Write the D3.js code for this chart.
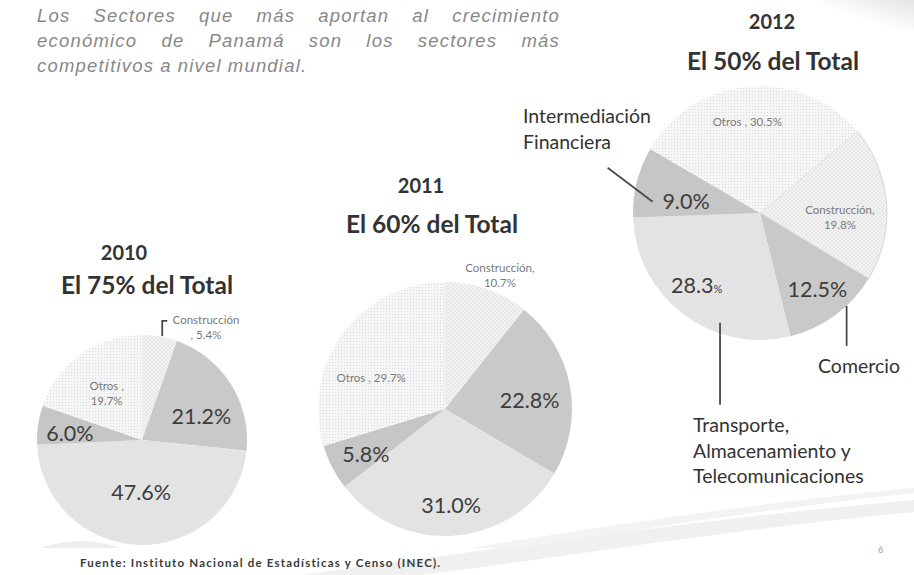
<!DOCTYPE html>
<html lang="es">
<head>
<meta charset="utf-8">
<title>Sectores Panamá</title>
<script src="https://cdn.jsdelivr.net/npm/d3@7"></script>
<style>
  body { margin: 0; background: #fff; }
  svg { display: block; }
</style>
</head>
<body>
<svg id="chart" width="914" height="575"></svg>
<script>
// data
const years = ["2010", "2011", "2012"];
const totalLabels = ["El 75% del Total", "El 60% del Total", "El 50% del Total"];
const sectors = ["Construcción", "Comercio", "Transporte", "Financiera", "Otros"];
const values2010 = [5.4, 21.2, 47.6, 6.0, 19.7];
const values2011 = [10.7, 22.8, 31.0, 5.8, 29.7];
const values2012 = [19.8, 12.5, 28.3, 9.0, 30.5];
const headline = [
  "Los Sectores que más aportan al crecimiento",
  "económico de Panamá son los sectores más",
  "competitivos a nivel mundial."
];
const sectorNotes = [
  ["Intermediación", "Financiera"],
  ["Comercio"],
  ["Transporte,", "Almacenamiento y", "Telecomunicaciones"]
];
const source = "Fuente: Instituto Nacional de Estadísticas y Censo (INEC).";
const pageNumber = "6";

// layout: pie centre, radius, start angle, label spots [angle deg, radius fraction]
const pies = [
  {values: values2010, cx: 142, cy: 440, r: 105, start: 0,
   year: [124, 260], total: [147, 294],
   spots: [[29.7, 1.23], [68, 0.61], [181, 0.5], [275, 0.69], [323, 0.56]],
   split: {0: "before", 4: "after"}},
  {values: values2011, cx: 445, cy: 409, r: 127, start: 0,
   year: [421, 193], total: [432, 233],
   spots: [[22.3, 1.14], [84, 0.67], [176.4, 0.76], [240, 0.72], [292.7, 0.63]],
   split: {0: "comma", 4: "none"}},
  {values: values2012, cx: 760, cy: 213, r: 127, start: 50,
   year: [772, 29], total: [773, 70],
   spots: [[93, 0.63], [143, 0.75], [221, 0.76], [279, 0.59], [352, 0.72]],
   split: {0: "comma", 4: "none"}, smallPct: 2}
];

const fills = ["url(#hatch)", "#c9c9c9", "#e3e3e3", "#c6c6c6", "url(#dots)"];
const fmt = d3.format(".1f");
const rad = Math.PI / 180;

const svg = d3.select("#chart");
const defs = svg.append("defs");

const dots = defs.append("pattern").attr("id", "dots")
  .attr("patternUnits", "userSpaceOnUse").attr("width", 3).attr("height", 3);
dots.append("rect").attr("width", 3).attr("height", 3).attr("fill", "#f6f6f6");
dots.append("circle").attr("cx", 1.5).attr("cy", 1.5).attr("r", 0.55).attr("fill", "#d4d4d4");

const hatch = defs.append("pattern").attr("id", "hatch")
  .attr("patternUnits", "userSpaceOnUse").attr("width", 4).attr("height", 4);
hatch.append("rect").attr("width", 4).attr("height", 4).attr("fill", "#f2f2f2");
hatch.append("path").attr("d", "M0,4 L4,0 M0,0 L4,4").attr("stroke", "#dedede").attr("stroke-width", 0.5);

const corner = defs.append("linearGradient").attr("id", "corner")
  .attr("x1", 0).attr("y1", 1).attr("x2", 1).attr("y2", 0);
corner.append("stop").attr("offset", "0.4").attr("stop-color", "#fff");
corner.append("stop").attr("offset", "1").attr("stop-color", "#e4e4e4");

// background swooshes of the slide
const bg = svg.append("g");
bg.append("rect").attr("x", 820).attr("y", 0).attr("width", 94).attr("height", 30).attr("fill", "url(#corner)");
bg.append("path").attr("d", "M300,575 C520,545 740,515 914,500 L914,512 C740,528 560,558 420,575 Z")
  .attr("fill", "#f0f0f0");
bg.append("path").attr("d", "M470,548 C640,520 800,498 914,488 L914,493 C800,505 650,527 520,548 Z")
  .attr("fill", "#f3f3f3");
bg.append("path").attr("d", "M40,548 C70,538 100,540 120,548 Z").attr("fill", "#ededed");

// headline, justified
const head = svg.append("g")
  .style("font-family", "'Liberation Sans', Arial, sans-serif")
  .style("font-style", "italic").style("font-size", "18.5px")
  .style("letter-spacing", "1.2px").attr("fill", "#888");
headline.forEach((line, i) => {
  const y = 22 + i * 25;
  const words = line.split(" ");
  const nodes = words.map(w => head.append("text").attr("y", y).text(w));
  const widths = nodes.map(n => n.node().getComputedTextLength());
  const total = d3.sum(widths);
  const last = i === headline.length - 1;
  const gap = last ? 6 : (560 - 37 - total) / (words.length - 1);
  let x = 37;
  nodes.forEach((n, j) => { n.attr("x", x); x += widths[j] + gap; });
});

const pie = d3.pie().sort(null).value(d => d);

pies.forEach((p, k) => {
  const g = svg.append("g").attr("transform", `translate(${p.cx},${p.cy})`);
  const arcs = pie.startAngle(p.start * rad).endAngle((p.start + 360) * rad)(p.values);
  const arc = d3.arc().innerRadius(0).outerRadius(p.r);

  g.selectAll("path.slice").data(arcs).join("path")
    .attr("class", "slice")
    .attr("d", arc)
    .attr("fill", (d, i) => fills[i])
    .attr("stroke", (d, i) => (k === 2 && i === 0) ? "#cfcfcf" : "none")
    .attr("stroke-width", 0.8);

  // titles
  svg.append("text").attr("x", p.year[0]).attr("y", p.year[1])
    .attr("text-anchor", "middle").style("font-family", "Lato, sans-serif")
    .style("font-weight", "bold").style("font-size", "20px").attr("fill", "#333")
    .text(years[k]);
  svg.append("text").attr("x", p.total[0]).attr("y", p.total[1])
    .attr("text-anchor", "middle").style("font-family", "Lato, sans-serif")
    .style("font-weight", "bold").style("font-size", "24.5px").attr("fill", "#333")
    .text(totalLabels[k]);

  // slice labels
  arcs.forEach((a, i) => {
    const [ang, f] = p.spots[i];
    const [x, y] = d3.pointRadial(ang * rad, p.r * f);
    const v = fmt(a.data) + "%";
    if (i === 0 || i === 4) {
      const name = sectors[i];
      const mode = p.split[i];
      let lines;
      if (mode === "before") lines = [name, ", " + v];
      else if (mode === "after") lines = [name + " ,", v];
      else if (mode === "comma") lines = [name + ",", v];
      else lines = [name + " , " + v];
      const t = g.append("text").attr("text-anchor", "middle")
        .style("font-family", "Lato, sans-serif").style("font-size", "11.5px").attr("fill", "#7a7a7a");
      lines.forEach((l, j) => {
        t.append("tspan").attr("x", x)
          .attr("y", y + (j - (lines.length - 1) / 2) * 15 + 4).text(l);
      });
    } else {
      const t = g.append("text").attr("x", x).attr("y", y + 7.5)
        .attr("text-anchor", "middle").style("font-family", "Lato, sans-serif")
        .style("font-size", "21.5px").attr("fill", "#3d3d3d");
      if (p.smallPct === i) {
        t.append("tspan").text(fmt(a.data));
        t.append("tspan").style("font-size", "11px").text("%");
      } else {
        t.text(v);
      }
    }
  });
});

// leader lines and sector notes (2012 pie and 2010 construction)
const p10 = pies[0], p12 = pies[2];
function leader(p, ang, f, steps) {
  const [x0, y0] = d3.pointRadial(ang * rad, p.r * f);
  let pts = [[p.cx + x0, p.cy + y0]];
  steps.forEach(s => {
    const last = pts[pts.length - 1];
    pts.push([last[0] + s[0], last[1] + s[1]]);
  });
  svg.append("path").attr("d", d3.line()(pts))
    .attr("fill", "none").attr("stroke", "#4a4a4a").attr("stroke-width", 1.8);
}
leader(p10, 11, 1.01, [[0, -15], [5, 0]]);
leader(p12, 276, 0.85, [[-45, -34]]);
leader(p12, 137, 1.0, [[0, 40]]);
leader(p12, 200, 0.92, [[0, 82]]);

const notes = svg.append("g").style("font-family", "Lato, sans-serif")
  .style("font-size", "19.5px").attr("fill", "#333");
const notePos = [[523, 123], [818, 373], [693, 432]];
sectorNotes.forEach((lines, i) => {
  const t = notes.append("text");
  lines.forEach((l, j) => {
    t.append("tspan").attr("x", notePos[i][0]).attr("y", notePos[i][1] + j * 25.5).text(l);
  });
});

// footer
svg.append("text").attr("x", 80).attr("y", 567)
  .style("font-family", "Lato, sans-serif").style("font-size", "11.5px")
  .style("font-weight", "bold").style("letter-spacing", "1.2px")
  .attr("fill", "#3a3a3a").text(source);
svg.append("text").attr("x", 878).attr("y", 553)
  .style("font-family", "Lato, sans-serif").style("font-size", "9px")
  .attr("fill", "#999").text(pageNumber);
</script>
</body>
</html>
